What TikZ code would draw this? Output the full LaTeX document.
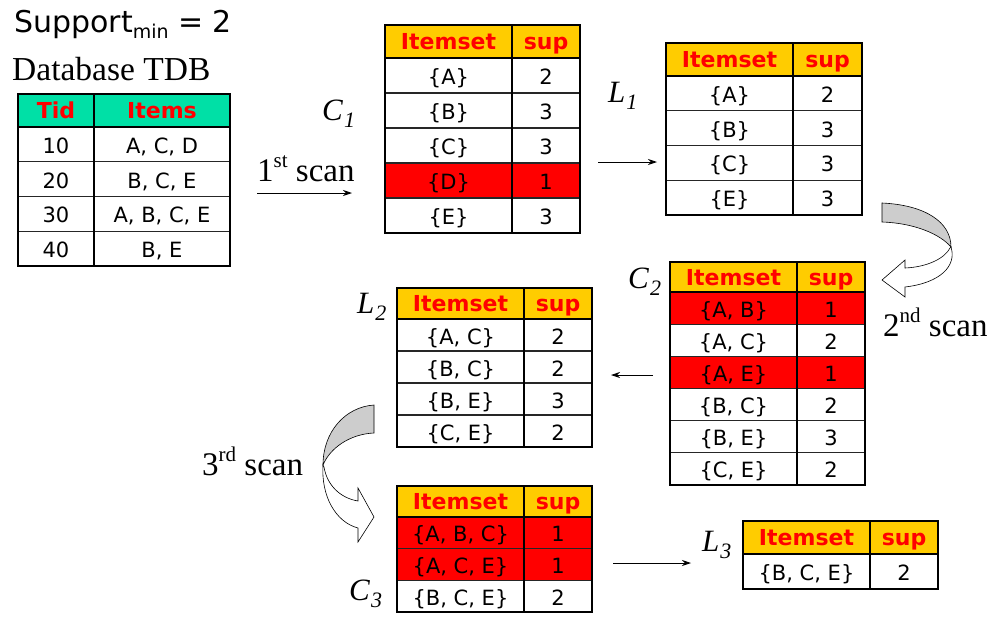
\documentclass[tikz,border=0pt]{standalone}
\usepackage{fontspec}
\setmainfont{DejaVu Sans}
\newfontfamily\timesfont{Liberation Serif}
\usetikzlibrary{arrows.meta}
\definecolor{gold}{HTML}{FFCC00}
\definecolor{mint}{HTML}{00E0A6}
\definecolor{pptred}{HTML}{FF0000}
\definecolor{arrowgray}{HTML}{CDCDCD}

\tikzset{
 cell/.style={anchor=base, inner sep=0pt, font=\fontsize{21}{21}\selectfont, text=black},
 hdr/.style={anchor=base, inner sep=0pt, font=\fontsize{22}{22}\selectfont\bfseries, text=pptred},
 rowline/.style={line width=1.2pt, draw=black!85},
 thickline/.style={line width=2pt, draw=black},
 outerline/.style={line width=2pt, draw=black},
 flow/.style={line width=0.9pt, -{Stealth[length=9pt,width=6pt]}},
 lbl/.style={anchor=base west, inner sep=0pt, font=\timesfont\fontsize{31}{31}\selectfont},
 scanlbl/.style={anchor=base west, inner sep=0pt, font=\timesfont\fontsize{33}{33}\selectfont},
 curvarrow/.style={draw=black, line width=0.6pt, line join=miter},
}

\newcommand{\lsub}[2]{\textit{#1}\kern1pt\raisebox{-7pt}{\fontsize{22}{22}\selectfont\textit{#2}}}
\newcommand{\lsup}[2]{#1\raisebox{0.40em}{\fontsize{21}{21}\selectfont #2}}

% #1 name, #2 left, #3 divider, #4 right, #5 top, #6 header bottom, #7 row height, #8 rows
\newcommand{\drawtable}[8]{%
  \fill[\hdfill] (#2,#5) rectangle (#4,#6);
  \node[hdr] (#1-ha) at ({(#2+#3)/2},{(#5+#6)/2+8}) {\hdA};
  \node[hdr] (#1-hb) at ({(#3+#4)/2},{(#5+#6)/2+8}) {\hdB};
  \foreach [count=\i] \a/\b/\c in {#8} {%
    \pgfmathsetmacro\ya{#6+(\i-1)*#7}%
    \pgfmathsetmacro\yb{#6+\i*#7}%
    \fill[\c] (#2,\ya) rectangle (#4,\yb);
    \node[cell] (#1-\i-a) at ({(#2+#3)/2},{(\ya+\yb)/2+9}) {\a};
    \node[cell] (#1-\i-b) at ({(#3+#4)/2},{(\ya+\yb)/2+9}) {\b};
    \xdef\nrows{\i}%
  }
  \pgfmathsetmacro\ybot{#6+\nrows*#7}%
  \foreach \j in {1,...,\nrows} {\draw[rowline] (#2,{#6+\j*#7}) -- (#4,{#6+\j*#7});}
  \draw[thickline] (#2,#6) -- (#4,#6);
  \draw[thickline] (#3,#5) -- (#3,\ybot);
  \draw[outerline] (#2,#5) rectangle (#4,\ybot);
}

\begin{document}
\begin{tikzpicture}[x=1pt,y=-1pt]
\useasboundingbox (0,0) rectangle (1006,627);

% titles
\node[anchor=base west, inner sep=0pt, font=\fontsize{30}{30}\selectfont] (title) at (14,32)
  {Support\raisebox{-6pt}{\fontsize{19}{19}\selectfont min} = 2};
\node[anchor=base west, inner sep=0pt, font=\timesfont\fontsize{33.5}{33.5}\selectfont] (dbname) at (12,80) {Database TDB};

% tables
\def\hdfill{mint}\def\hdA{Tid}\def\hdB{Items}
\drawtable{tdb}{18}{94}{230}{94}{127}{34.75}{10/{A, C, D}/white, 20/{B, C, E}/white, 30/{A, B, C, E}/white, 40/{B, E}/white}

\def\hdfill{gold}\def\hdA{Itemset}\def\hdB{sup}
\drawtable{c1}{385}{512}{580}{25}{58}{35}{{\{A\}}/2/white, {\{B\}}/3/white, {\{C\}}/3/white, {\{D\}}/1/pptred, {\{E\}}/3/white}
\drawtable{l1}{666}{793}{862}{43}{76}{34.75}{{\{A\}}/2/white, {\{B\}}/3/white, {\{C\}}/3/white, {\{E\}}/3/white}
\drawtable{c2}{670}{797}{865}{262}{292}{32.17}{{\{A, B\}}/1/pptred, {\{A, C\}}/2/white, {\{A, E\}}/1/pptred, {\{B, C\}}/2/white, {\{B, E\}}/3/white, {\{C, E\}}/2/white}
\drawtable{l2}{397}{524}{592}{288}{319}{32}{{\{A, C\}}/2/white, {\{B, C\}}/2/white, {\{B, E\}}/3/white, {\{C, E\}}/2/white}
\drawtable{c3}{397}{524}{592}{486}{517}{31.67}{{\{A, B, C\}}/1/pptred, {\{A, C, E\}}/1/pptred, {\{B, C, E\}}/2/white}
\drawtable{l3}{743}{870}{938}{521}{554}{35}{{\{B, C, E\}}/2/white}

% labels
\node[lbl] (c1lab) at (322,120) {\lsub{C}{1}};
\node[lbl] (l1lab) at (608,102) {\lsub{L}{1}};
\node[lbl] (c2lab) at (628,288) {\lsub{C}{2}};
\node[lbl] (l2lab) at (357,313) {\lsub{L}{2}};
\node[lbl] (c3lab) at (349,600) {\lsub{C}{3}};
\node[lbl] (l3lab) at (702,551) {\lsub{L}{3}};

\node[scanlbl] (scan1) at (257,181) {\lsup{1}{st} scan};
\node[scanlbl] (scan2) at (883,336) {\lsup{2}{nd} scan};
\node[scanlbl] (scan3) at (202,475) {\lsup{3}{rd} scan};

% straight arrows
\coordinate (a1s) at (257,193); \coordinate (a1e) at (352,193);
\coordinate (a2s) at (598,162); \coordinate (a2e) at (657,162);
\coordinate (a3s) at (653,375); \coordinate (a3e) at (611,375);
\coordinate (a4s) at (613,563); \coordinate (a4e) at (691,563);
\draw[flow] (a1s) -- (a1e);
\draw[flow] (a2s) -- (a2e);
\draw[flow] (a3s) -- (a3e);
\draw[flow] (a4s) -- (a4e);

% curved arrow (2nd scan)
\filldraw[curvarrow, fill=arrowgray] (882,203) .. controls (925,205) and (951,222) .. (951,247)
   .. controls (940,234) and (914,223) .. (882,222) -- cycle;
\filldraw[curvarrow, fill=white] (951,247) .. controls (957,266) and (940,283) .. (905,287)
   -- (905,297) -- (882,280) -- (905,260) -- (905,268)
   .. controls (928,267) and (945,258) .. (950,248) -- cycle;

% curved arrow (3rd scan)
\filldraw[curvarrow, fill=arrowgray] (374,405) .. controls (345,407) and (323,432) .. (323,465)
   .. controls (330,448) and (350,434) .. (374,433) -- cycle;
\filldraw[curvarrow, fill=white] (323,465) .. controls (321,495) and (335,522) .. (358,528)
   -- (358,542) -- (374,517) -- (358,488) -- (358,501)
   .. controls (340,498) and (327,485) .. (324,467) -- cycle;
\end{tikzpicture}
\end{document}
